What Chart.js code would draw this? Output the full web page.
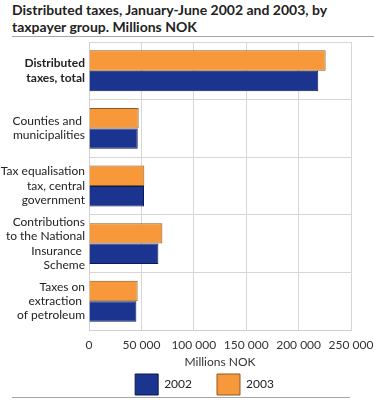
<!DOCTYPE html>
<html>
<head>
<meta charset="utf-8">
<script src="https://cdn.jsdelivr.net/npm/chart.js@4"></script>
<style>
  body { margin: 0; }
  #wrap { position: relative; width: 374px; height: 400px; overflow: hidden; background: #fff; }
  #titel { position: absolute; left: 12px; top: 1px; font: bold 14px Lato, sans-serif; line-height: 17px; color: #222; }
  .strek { position: absolute; height: 0; border-top: 1.5px solid #a6a6a6; }
  #graf { position: absolute; left: 0; top: 40px; }
</style>
</head>
<body>
<div id="wrap">
  <div id="titel">Distributed taxes, January-June 2002 and 2003, by<br>taxpayer group. Millions NOK</div>
  <div class="strek" style="left:12px; width:362px; top:36px;"></div>
  <div id="graf"><canvas id="meuGrafico" width="374" height="365"></canvas></div>
  <div class="strek" style="left:12px; width:338px; top:397px;"></div>
</div>
<script>
const kategorier = [
    ['Distributed', 'taxes, total'],
    ['Counties and ', 'municipalities'],
    ['Tax equalisation', 'tax, central', 'government'],
    ['Contributions', 'to the National', 'Insurance ', 'Scheme'],
    ['Taxes on', 'extraction ', 'of petroleum']
];
const verdier2002 = [218800, 46500, 52500, 66200, 45200];
const verdier2003 = [225800, 47400, 52800, 70000, 46400];
const xTicks = [0, 50000, 100000, 150000, 200000, 250000];

document.addEventListener('DOMContentLoaded', function() {
    const ctx = document.getElementById('meuGrafico').getContext('2d');
    const fonte = "Lato, sans-serif";

    // flytter legenden litt mot høyre, som i originalen
    const flyttLegende = {
        id: 'flyttLegende',
        afterLayout(chart) {
            chart.legend.left += 58;
        }
    };

    new Chart(ctx, {
        type: 'bar',
        data: {
            labels: kategorier,
            datasets: [{
                label: '2003',
                data: verdier2003,
                backgroundColor: '#f7993a',
                borderColor: '#8a5a26',
                borderWidth: 1,
                borderSkipped: 'left'
            }, {
                label: '2002',
                data: verdier2002,
                backgroundColor: '#1a3490',
                borderColor: '#0c1a50',
                borderWidth: 1,
                borderSkipped: 'left'
            }]
        },
        options: {
            indexAxis: 'y',
            responsive: false,
            animation: false,
            layout: { padding: { top: 2, right: 23, left: 0, bottom: 0 } },
            datasets: { bar: { barPercentage: 1, categoryPercentage: 0.71 } },
            scales: {
                x: {
                    min: 0,
                    max: 250000,
                    afterBuildTicks: (axis) => { axis.ticks = xTicks.map(v => ({ value: v })); },
                    afterFit: (axis) => {
                        axis.height = 19;
                        axis.paddingLeft = 0;
                        axis.paddingRight = 0;
                    },
                    grid: { color: '#d6d6d6', drawTicks: false },
                    border: { color: '#d0d0d0' },
                    ticks: {
                        padding: 8,
                        color: '#333',
                        maxRotation: 0,
                        font: { family: fonte, size: 12 },
                        callback: (v) => String(v).replace(/\B(?=(\d{3})+(?!\d))/g, ' ')
                    },
                    title: {
                        display: true,
                        text: 'Millions NOK',
                        color: '#333',
                        font: { family: fonte, size: 12 },
                        padding: { top: 0, bottom: -20 }
                    }
                },
                y: {
                    afterFit: (axis) => {
                        axis.width = 89;
                        axis.paddingTop = 0;
                        axis.paddingBottom = 0;
                    },
                    grid: { color: '#d6d6d6', drawTicks: false },
                    border: { color: '#d0d0d0' },
                    ticks: {
                        padding: 4,
                        autoSkip: false,
                        color: '#222',
                        font: (c) => ({ family: fonte, size: 12, lineHeight: 1.2, weight: c.index === 0 ? 'bold' : 'normal' })
                    }
                }
            },
            plugins: {
                legend: {
                    position: 'bottom',
                    reverse: true,
                    labels: {
                        boxWidth: 23,
                        boxHeight: 21,
                        padding: 25,
                        color: '#222',
                        font: { family: fonte, size: 12 }
                    }
                },
                tooltip: { enabled: false }
            }
        },
        plugins: [flyttLegende]
    });
});
</script>
</body>
</html>
